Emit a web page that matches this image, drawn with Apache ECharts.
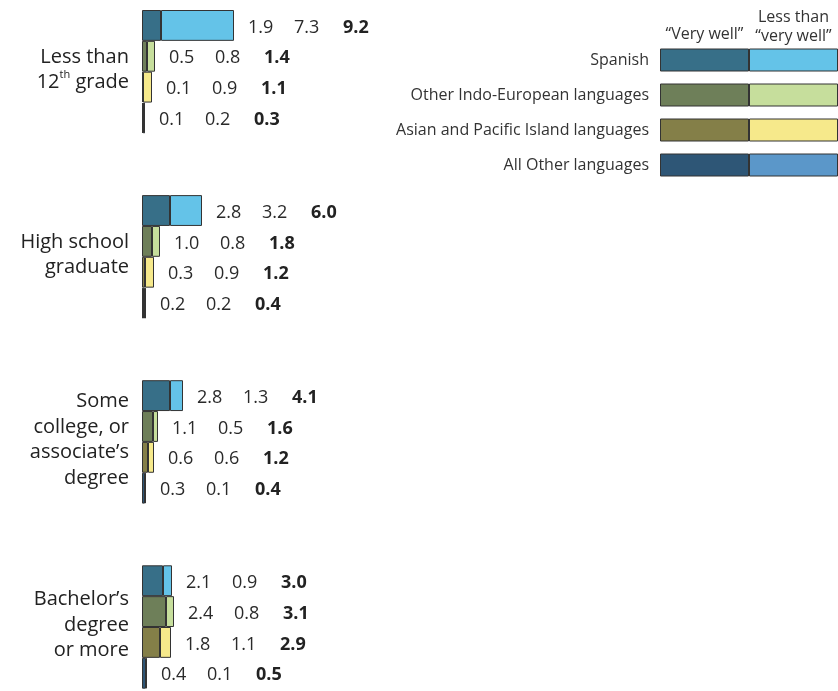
<!DOCTYPE html>
<html><head><meta charset="utf-8">
<script src="https://cdn.jsdelivr.net/npm/echarts@6/dist/echarts.min.js"></script>
<style>html,body{margin:0;padding:0;background:#fff}#c{width:838px;height:691px}</style>
</head><body><div id="c"></div>
<script>
const levels = ['Less than\n12{sup|th} grade', 'High school\ngraduate', 'Some\ncollege, or\nassociate’s\ndegree', 'Bachelor’s\ndegree\nor more'];
const languages = ['Spanish', 'Other Indo-European languages', 'Asian and Pacific Island languages', 'All Other languages'];
const headerVeryWell = '“Very well”';
const headerLess = 'Less than\n“very well”';
// per language, across the four education levels
const spanishVeryWell = [1.9, 2.8, 2.8, 2.1];
const spanishLess     = [7.3, 3.2, 1.3, 0.9];
const spanishTotal    = [9.2, 6.0, 4.1, 3.0];
const indoVeryWell    = [0.5, 1.0, 1.1, 2.4];
const indoLess        = [0.8, 0.8, 0.5, 0.8];
const indoTotal       = [1.4, 1.8, 1.6, 3.1];
const asianVeryWell   = [0.1, 0.3, 0.6, 1.8];
const asianLess       = [0.9, 0.9, 0.6, 1.1];
const asianTotal      = [1.1, 1.2, 1.2, 2.9];
const otherVeryWell   = [0.1, 0.2, 0.3, 0.4];
const otherLess       = [0.2, 0.2, 0.1, 0.1];
const otherTotal      = [0.3, 0.4, 0.4, 0.5];
const darkColors  = ['#376f88', '#6e7f59', '#847f48', '#2e5676'];
const lightColors = ['#64c3e8', '#c6de9c', '#f6e98b', '#5b97c9'];

const veryWell = [spanishVeryWell, indoVeryWell, asianVeryWell, otherVeryWell];
const less = [spanishLess, indoLess, asianLess, otherLess];
const totals = [spanishTotal, indoTotal, asianTotal, otherTotal];

const SLOTS_PER_GROUP = 6;
const nSlots = (levels.length - 1) * SLOTS_PER_GROUP + languages.length;
const cats = [], d1 = [], d2 = [];
for (let s = 0; s < nSlots; s++) {
  const g = Math.floor(s / SLOTS_PER_GROUP), r = s % SLOTS_PER_GROUP;
  cats.push('s' + s);
  if (r < languages.length) {
    d1.push({value: veryWell[r][g], itemStyle: {color: darkColors[r]}});
    d2.push({value: less[r][g], itemStyle: {color: lightColors[r]}, g: g, r: r});
  } else { d1.push('-'); d2.push('-'); }
}
const border = {borderColor: '#333', borderWidth: 1};
const FONT = 'Open Sans';
const chart = echarts.init(document.getElementById('c'));
const option = {
  animation: false,
  textStyle: {fontFamily: FONT},
  grid: [
    {left: 142, top: 10, width: 500, height: nSlots * 30.85},
    {left: 660, top: 42.5, width: 186, height: 140}
  ],
  xAxis: [
    {gridIndex: 0, type: 'value', min: 0, max: 50, show: false},
    {gridIndex: 1, type: 'value', min: 0, max: 2, show: false}
  ],
  yAxis: [
    {gridIndex: 0, type: 'category', data: cats, inverse: true, axisLine: {show: false}, axisTick: {show: false}, axisLabel: {show: false}},
    {gridIndex: 1, type: 'category', data: languages, inverse: true, axisLine: {show: false}, axisTick: {show: false},
     axisLabel: {margin: 11, fontSize: 16, color: '#333', fontFamily: FONT}}
  ],
  series: [
    {type: 'bar', xAxisIndex: 0, yAxisIndex: 0, stack: 'a', data: d1, barCategoryGap: '0%', itemStyle: border},
    {type: 'bar', xAxisIndex: 0, yAxisIndex: 0, stack: 'a', data: d2, barCategoryGap: '0%', itemStyle: border,
     label: {show: true, position: 'right', distance: 14, offset: [0, 2],
       formatter: p => {
         const g = p.data.g, r = p.data.r;
         return '{a|' + veryWell[r][g].toFixed(1) + '}{b|' + less[r][g].toFixed(1) + '}{c|' + totals[r][g].toFixed(1) + '}';
       },
       rich: {
         a: {width: 46, fontSize: 18, color: '#2a2a2a', fontFamily: FONT},
         b: {width: 49, fontSize: 18, color: '#2a2a2a', fontFamily: FONT},
         c: {fontSize: 18, fontWeight: 'bold', color: '#222', fontFamily: FONT}
       }}},
    {type: 'bar', xAxisIndex: 1, yAxisIndex: 1, stack: 'l', barWidth: 23, itemStyle: border,
     data: languages.map((l, i) => ({value: 1, itemStyle: {color: darkColors[i]}}))},
    {type: 'bar', xAxisIndex: 1, yAxisIndex: 1, stack: 'l', barWidth: 23, itemStyle: border,
     data: languages.map((l, i) => ({value: 1, itemStyle: {color: lightColors[i]}}))}
  ]
};
chart.setOption(option);

// group labels and legend headers positioned from the axes
const graphics = [];
levels.forEach((lv, g) => {
  const y1 = chart.convertToPixel({yAxisIndex: 0}, 's' + (g * SLOTS_PER_GROUP + 1));
  const y2 = chart.convertToPixel({yAxisIndex: 0}, 's' + (g * SLOTS_PER_GROUP + 2));
  const x0 = chart.convertToPixel({xAxisIndex: 0}, 0);
  graphics.push({type: 'text', x: x0 - 13, y: (y1 + y2) / 2 - 2,
    style: {text: lv, align: 'right', verticalAlign: 'middle', fontSize: 20, lineHeight: 25.5, fill: '#222', fontFamily: FONT,
      rich: {sup: {fontSize: 11, verticalAlign: 'top', lineHeight: 22, fill: '#222', fontFamily: FONT}}}});
});
const yTop = chart.convertToPixel({yAxisIndex: 1}, languages[0]);
const xa = chart.convertToPixel({xAxisIndex: 1}, 0.5);
const xb = chart.convertToPixel({xAxisIndex: 1}, 1.5);
graphics.push({type: 'text', x: xa, y: yTop - 26, style: {text: headerVeryWell, align: 'center', verticalAlign: 'middle', fontSize: 16, fill: '#333', fontFamily: FONT}});
graphics.push({type: 'text', x: xb, y: yTop - 33, style: {text: headerLess, align: 'center', verticalAlign: 'middle', fontSize: 16, lineHeight: 19, fill: '#333', fontFamily: FONT}});
chart.setOption({graphic: graphics});
</script></body></html>
